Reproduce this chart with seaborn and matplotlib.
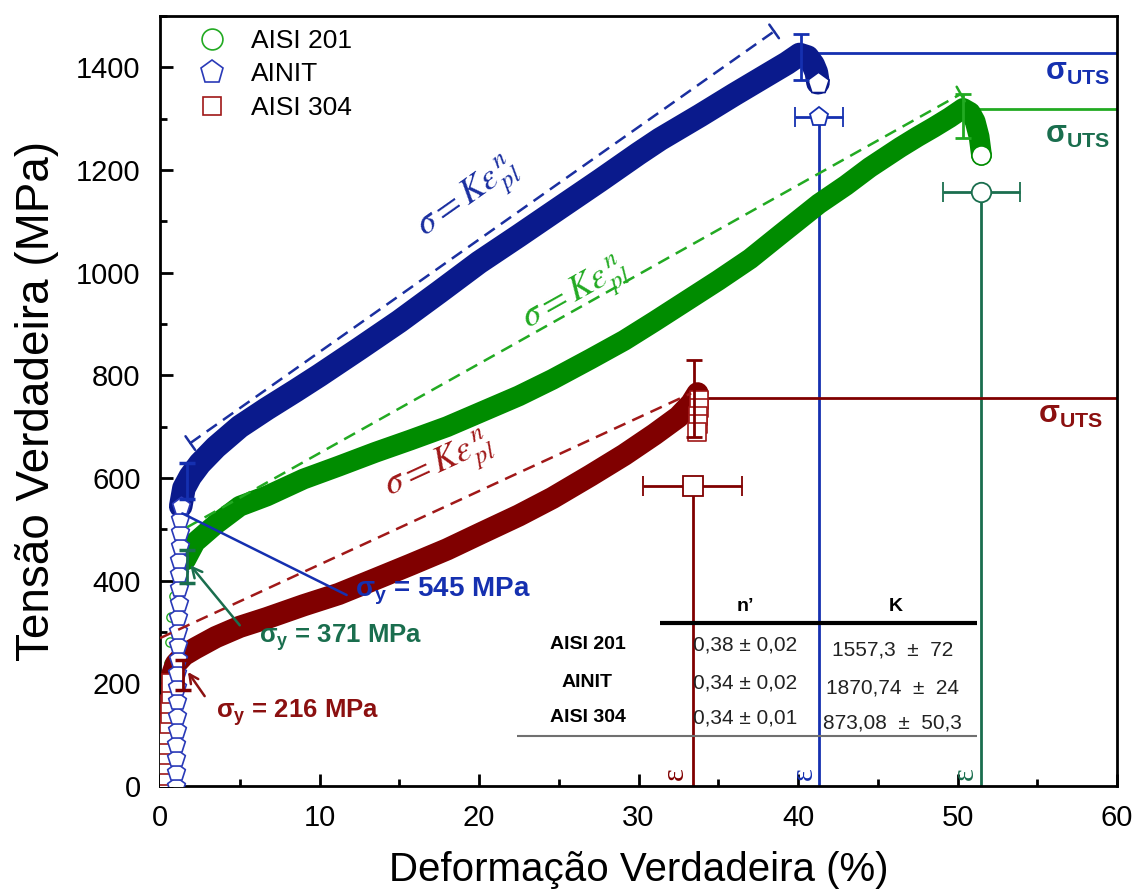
import numpy as np
import pandas as pd
import seaborn as sns
import matplotlib.pyplot as plt
from matplotlib.lines import Line2D
from matplotlib.ticker import MultipleLocator

# ---------------- data ----------------
materials = ["AISI 201", "AINIT", "AISI 304"]

# plastic flow curves (true strain %, true stress MPa)
strain_201 = [1.6, 2.2, 3.5, 5, 6.7, 9, 11.2, 13.5, 15.7, 18, 20.1, 22.5, 24.6, 27, 29.1,
              31, 33, 35, 37, 39, 41.3, 43, 44.5, 46.4, 47.5, 48.5, 49.5, 50.35, 50.8,
              51.1, 51.35, 51.5]
stress_201 = [440, 475, 510, 545, 565, 598, 623, 650, 674, 700, 728, 760, 792, 832, 868,
              905, 945, 985, 1027, 1077, 1134, 1170, 1205, 1244, 1265, 1283, 1302, 1320, 1312,
              1295, 1265, 1229]

strain_ainit = [1.3, 1.5, 1.9, 2.5, 3.5, 5, 6.7, 8.5, 10, 12.5, 15, 17.5, 20, 22.5, 25,
                27.6, 30, 31.35, 33.85, 36, 38, 39.3, 40.1, 40.6, 40.95, 41.15, 41.25]
stress_ainit = [545, 580, 603, 628, 660, 700, 735, 770, 800, 852, 905, 962, 1020, 1072, 1125,
                1180, 1232, 1260, 1306, 1347, 1384, 1408, 1425, 1420, 1405, 1390, 1370]

strain_304 = [0.75, 1.0, 1.5, 2.2, 3.5, 5, 6.7, 9, 11.2, 13.5, 15.7, 18, 20.1, 22.5, 24.6,
              27, 29.1, 31, 32.5, 33.3, 33.7]
stress_304 = [216, 238, 255, 268, 290, 310, 327, 352, 374, 403, 431, 461, 492, 527, 561,
              605, 645, 685, 719, 745, 765]

# elastic parts (stacked hollow markers)
el_strain_201 = [0.25, 0.3, 0.35, 0.4, 0.45, 0.5, 0.55, 0.6, 0.7, 0.9, 1.2]
el_stress_201 = [0, 40, 80, 120, 160, 200, 240, 280, 330, 371, 400]
el_strain_ainit = [1.0, 1.01, 1.02, 1.03, 1.04, 1.05, 1.06, 1.07, 1.08, 1.1, 1.11, 1.13,
                   1.14, 1.16, 1.17, 1.19, 1.21, 1.23, 1.25, 1.28, 1.3]
el_stress_ainit = [0, 27, 55, 82, 110, 137, 165, 192, 220, 247, 275, 302, 330, 357, 385,
                   412, 440, 467, 495, 520, 545]
el_strain_304 = [0.4, 0.42, 0.44, 0.47, 0.5, 0.53, 0.56, 0.6, 0.64, 0.68, 0.72]
el_stress_304 = [0, 20, 40, 60, 80, 100, 120, 140, 160, 180, 200]

# necking drop markers after the UTS
drop_strain_304 = [33.8, 33.8, 33.75, 33.7, 33.65]
drop_stress_304 = [752, 737, 721, 705, 690]

# Hollomon fit lines (sigma = K eps^n), endpoints
fit_strain_201 = [1.7, 50.2]
fit_stress_201 = [504, 1348]
fit_strain_ainit = [1.9, 38.5]
fit_stress_ainit = [668, 1470]
fit_strain_304 = [0.0, 33.3]
fit_stress_304 = [288, 765]

# UTS level and its error bar (order: 201, AINIT, 304)
uts_value = [1318, 1427, 755]
uts_strain = [50.35, 40.2, 33.5]
uts_err_center = [1306, 1420, 755]
uts_err = [43, 45, 75]

# fracture strain marker with horizontal error bar
frac_strain = [51.5, 41.3, 33.4]
frac_stress = [1158, 1303, 585]
frac_err = [2.4, 1.5, 3.1]

# yield error bars
yield_strain = [1.7, 1.7, 1.45]
yield_center = [427, 595, 216]
yield_err = [32, 35, 30]
yield_value = [371, 545, 216]

# table
n_values = ["0,38 ± 0,02", "0,34 ± 0,02", "0,34 ± 0,01"]
k_values = ["1557,3  ±  72", "1870,74  ±  24", "873,08  ±  50,3"]

# ---------------- style ----------------
sns.set_style("ticks")
plt.rcParams['font.family'] = ['Liberation Sans', 'DejaVu Sans']
plt.rcParams['mathtext.fontset'] = 'custom'
plt.rcParams['mathtext.rm'] = 'Liberation Sans'
plt.rcParams['mathtext.bf'] = 'Liberation Sans:bold'
plt.rcParams['mathtext.it'] = 'Liberation Sans:italic'
for k in ['text.color', 'axes.labelcolor', 'xtick.color', 'ytick.color']:
    plt.rcParams[k] = 'black'

BLUE = '#0a1a8c'
BLUE_L = '#1530b0'
GREEN = '#008c00'
GREEN_L = '#22aa22'
GREEN_D = '#1a6e4e'
RED = '#800000'
RED_T = '#8b1010'

fig = plt.figure(figsize=(11.38, 8.89), dpi=100)
ax = fig.add_axes([0.1406, 0.1159, 0.8410, 0.8661])
ax.set_xlim(0, 60)
ax.set_ylim(0, 1500)

# ---------------- curves ----------------
def band(xs, ys, color, z, lw):
    df = pd.DataFrame({'x': xs, 'y': ys})
    sns.lineplot(data=df, x='x', y='y', ax=ax, color=color, lw=lw, sort=False,
                 estimator=None, legend=False, solid_capstyle='round',
                 solid_joinstyle='round', zorder=z)

def hollow(xs, ys, color, marker, z, size=150, lw=1.2):
    df = pd.DataFrame({'x': xs, 'y': ys})
    sns.scatterplot(data=df, x='x', y='y', ax=ax, marker=marker, s=size,
                    facecolor='white', edgecolor=color, linewidth=lw, zorder=z, legend=False)

hollow(el_strain_201, el_stress_201, GREEN_L, 'o', 2, size=45, lw=1.0)
band(strain_201, stress_201, GREEN, 3, 15)
hollow(strain_201[-1:], stress_201[-1:], GREEN, 'o', 3.5, size=190)

band(strain_304, stress_304, RED, 4, 16)
hollow(el_strain_304, el_stress_304, '#a01818', 's', 4.5, size=170)
hollow(drop_strain_304, drop_stress_304, '#a01818', 's', 4.5, size=150)

band(strain_ainit, stress_ainit, BLUE, 5, 17)
hollow(el_strain_ainit, el_stress_ainit, '#2a3ab8', 'p', 5.5, size=180)
hollow(strain_ainit[-1:], stress_ainit[-1:], BLUE, 'p', 5.5, size=260)

# ---------------- fit lines ----------------
for fx, fy, c in [(fit_strain_201, fit_stress_201, GREEN_L),
                  (fit_strain_ainit, fit_stress_ainit, '#1a2fa0'),
                  (fit_strain_304, fit_stress_304, '#a01818')]:
    df = pd.DataFrame({'x': fx, 'y': fy})
    sns.lineplot(data=df, x='x', y='y', ax=ax, color=c, lw=1.8, sort=False,
                 estimator=None, legend=False, zorder=6)
    ax.lines[-1].set_dashes([5, 3])

fig.canvas.draw()

def end_tick(x, y, x2, y2, color, length=6):
    p1 = ax.transData.transform((x, y))
    p2 = ax.transData.transform((x2, y2))
    d = (p2 - p1) / np.linalg.norm(p2 - p1)
    n = np.array([-d[1], d[0]])
    for s in (1, -1):
        ax.annotate('', xy=(x, y), xytext=(s * n[0] * length, s * n[1] * length),
                    textcoords='offset points',
                    arrowprops=dict(arrowstyle='-', color=color, lw=1.8,
                                    shrinkA=0, shrinkB=0), zorder=6)

end_tick(fit_strain_ainit[0], fit_stress_ainit[0], fit_strain_ainit[1], fit_stress_ainit[1], '#1a2fa0')
end_tick(fit_strain_ainit[1], fit_stress_ainit[1], fit_strain_ainit[0], fit_stress_ainit[0], '#1a2fa0')
end_tick(fit_strain_201[1], fit_stress_201[1], fit_strain_201[0], fit_stress_201[0], GREEN_L)

# fit labels
def slope_deg(fx, fy):
    p1 = ax.transData.transform((fx[0], fy[0]))
    p2 = ax.transData.transform((fx[1], fy[1]))
    return np.degrees(np.arctan2(p2[1] - p1[1], p2[0] - p1[0]))

label = r'$\sigma = K\varepsilon_{pl}^{\,n}$'
ax.text(19.4, 1141, label, color='#1a2fa0', fontsize=26, math_fontfamily='stix',
        rotation=slope_deg(fit_strain_ainit, fit_stress_ainit), ha='center', va='center', zorder=7)
ax.text(26.1, 952, label, color=GREEN_L, fontsize=26, math_fontfamily='stix',
        rotation=slope_deg(fit_strain_201, fit_stress_201), ha='center', va='center', zorder=7)
ax.text(17.6, 618, label, color='#a01818', fontsize=26, math_fontfamily='stix',
        rotation=slope_deg(fit_strain_304, fit_stress_304), ha='center', va='center', zorder=7)

# ---------------- UTS lines, fracture lines, error bars ----------------
uts_colors = [GREEN_L, BLUE_L, RED]
vert_colors = [GREEN_D, BLUE_L, RED]
err_colors = [GREEN_L, BLUE_L, RED]
yerr_colors = [GREEN_D, BLUE_L, RED]
mk = ['o', 'p', 's']
for i in range(3):
    ax.hlines(uts_value[i], uts_strain[i], 60, color=uts_colors[i], lw=2, zorder=2)
    ax.vlines(frac_strain[i], 0, frac_stress[i], color=vert_colors[i], lw=2, zorder=2)
    ax.errorbar(frac_strain[i], frac_stress[i], xerr=frac_err[i], fmt=mk[i],
                color=vert_colors[i], mfc='white', mec=vert_colors[i], ms=14, mew=1.3,
                capsize=7, capthick=2, elinewidth=2, zorder=8)
    ax.errorbar(uts_strain[i], uts_err_center[i], yerr=uts_err[i], fmt='none',
                ecolor=err_colors[i], capsize=6, capthick=2, elinewidth=2, zorder=8)
    ax.errorbar(yield_strain[i], yield_center[i], yerr=yield_err[i], fmt='none',
                ecolor=yerr_colors[i], capsize=6, capthick=2.5, elinewidth=2, zorder=8)

# sigma_UTS labels
uts_label = 'σ$_\\mathbf{UTS}$'
ax.text(57.5, 1390, uts_label, color=BLUE_L, fontsize=22, fontweight='bold', ha='center', va='center')
ax.text(57.5, 1268, uts_label, color=GREEN_D, fontsize=22, fontweight='bold', ha='center', va='center')
ax.text(57.1, 722, uts_label, color=RED_T, fontsize=22, fontweight='bold', ha='center', va='center')

# epsilon marks at the bottom of the fracture lines
for x, c in [(32.3, RED), (40.4, BLUE_L), (50.5, GREEN_D)]:
    ax.text(x, 24, 'ε', color=c, fontsize=22, rotation=90, ha='center', va='center',
            family=['Liberation Serif', 'DejaVu Serif'], zorder=9)

# ---------------- yield annotations ----------------
ax.annotate('', xy=(1.4, 531), xytext=(11.7, 372),
            arrowprops=dict(arrowstyle='-', color=BLUE_L, lw=1.8, shrinkA=0, shrinkB=0), zorder=9)
ax.text(17.7, 380, f'σ$_\\mathbf{{y}}$ = {yield_value[1]} MPa', color=BLUE_L, fontsize=20,
        fontweight='bold', ha='center', va='center', zorder=10)
ax.annotate('', xy=(1.9, 430), xytext=(5.0, 313),
            arrowprops=dict(arrowstyle='->', color=GREEN_D, lw=1.8, mutation_scale=18,
                            shrinkA=0, shrinkB=0), zorder=9)
ax.text(11.3, 289, f'σ$_\\mathbf{{y}}$ = {yield_value[0]} MPa', color=GREEN_D, fontsize=18.5,
        fontweight='bold', ha='center', va='center', zorder=10)
ax.annotate('', xy=(1.75, 222), xytext=(2.8, 175),
            arrowprops=dict(arrowstyle='->', color=RED_T, lw=1.8, mutation_scale=16,
                            shrinkA=0, shrinkB=0), zorder=9)
ax.text(8.6, 142, f'σ$_\\mathbf{{y}}$ = {yield_value[2]} MPa', color=RED_T, fontsize=18.5,
        fontweight='bold', ha='center', va='center', zorder=10)

# ---------------- table ----------------
ax.text(36.7, 350, "n’", fontsize=14, fontweight='bold', ha='center', va='center')
ax.text(46.1, 350, "K", fontsize=14, fontweight='bold', ha='center', va='center')
ax.hlines(317, 31.35, 51.2, color='black', lw=3, zorder=3)
ax.hlines(97, 22.4, 51.2, color='#707070', lw=1.5, zorder=3)
row_y = [275, 201, 133]
for i in range(3):
    ax.text(26.8, row_y[i], materials[i], fontsize=14, fontweight='bold', ha='center', va='center')
    ax.text(36.7, row_y[i], n_values[i], fontsize=15, ha='center', va='center', color='#222222')
    ax.text(45.9, row_y[i] - 10, k_values[i], fontsize=15, ha='center', va='center', color='#222222')

# ---------------- axes ----------------
ax.set_xlabel('Deformação Verdadeira (%)', fontsize=29, labelpad=14)
ax.set_ylabel('Tensão Verdadeira (MPa)', fontsize=33, labelpad=12)
ax.xaxis.set_major_locator(MultipleLocator(10))
ax.xaxis.set_minor_locator(MultipleLocator(5))
ax.yaxis.set_major_locator(MultipleLocator(200))
ax.yaxis.set_minor_locator(MultipleLocator(100))
ax.yaxis.set_major_formatter(plt.FuncFormatter(lambda v, p: f'{int(v)}' if v <= 1400 else ''))
ax.tick_params(which='major', direction='in', length=9, width=2, labelsize=21,
               top=False, right=False)
ax.tick_params(axis='x', which='major', pad=13)
ax.tick_params(axis='y', which='major', pad=14)
ax.tick_params(which='minor', direction='in', length=5, width=2, top=False, right=False)
for s in ax.spines.values():
    s.set_linewidth(2)
    s.set_color('black')

# legend
handles = [Line2D([], [], ls='none', marker='o', mfc='white', mec=GREEN_L, ms=15, mew=1.2),
           Line2D([], [], ls='none', marker='p', mfc='white', mec='#2a3ab8', ms=17, mew=1.2),
           Line2D([], [], ls='none', marker='s', mfc='white', mec='#a01818', ms=13, mew=1.2)]
ax.legend(handles, materials, loc='upper left', bbox_to_anchor=(0.021, 0.997), frameon=False,
          fontsize=19, handlelength=1.6, handletextpad=0.7, labelspacing=0.36, borderaxespad=0.0)

fig.savefig('out.png', dpi=100)
